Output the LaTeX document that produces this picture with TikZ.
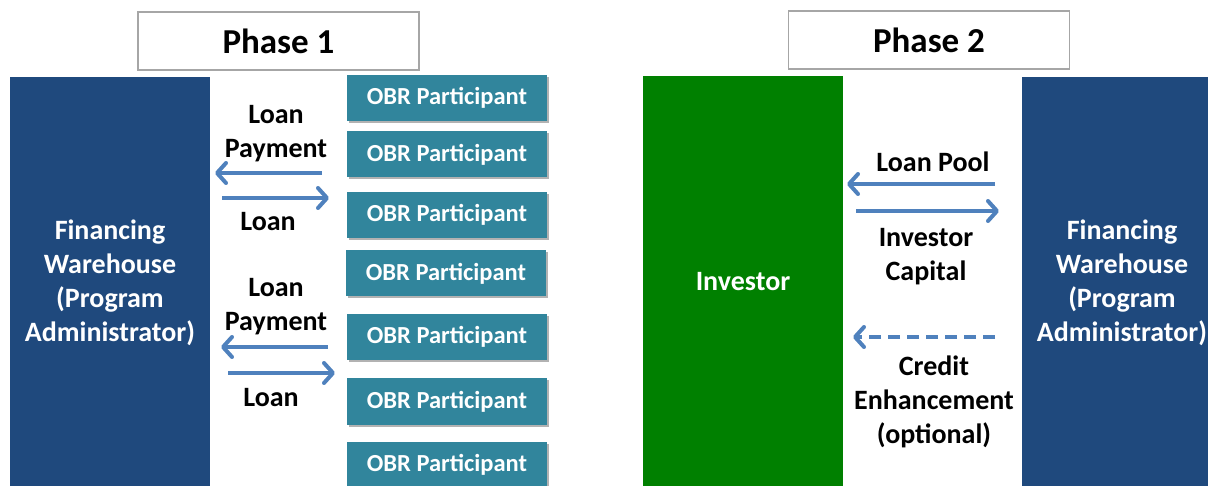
\documentclass[tikz,border=0pt]{standalone}
\usepackage{fontspec}
\setmainfont{Carlito}
\usetikzlibrary{arrows.meta,shadows}
\definecolor{navy}{HTML}{1F497D}
\definecolor{obrteal}{HTML}{31859C}
\definecolor{invgreen}{HTML}{008000}
\definecolor{arrowblue}{HTML}{4F81BD}
\definecolor{phasegray}{HTML}{A6A6A6}
\tikzset{
  bigbox/.style={draw=none, fill=#1, minimum width=200pt, minimum height=412pt,
    text=white, font=\bfseries\fontsize{28}{34}\selectfont, align=center, inner sep=0pt},
  obr/.style={fill=obrteal, minimum width=200pt, minimum height=46pt, text=white,
    font=\bfseries\fontsize{24.5}{28}\selectfont, inner sep=0pt,
    drop shadow={shadow xshift=1.5pt, shadow yshift=-2pt, opacity=0.3, fill=black}},
  phasebox/.style={draw=phasegray, line width=1.2pt, fill=white, minimum width=281pt,
    minimum height=58pt, font=\bfseries\fontsize{35}{42}\selectfont, inner sep=0pt},
  lbl/.style={font=\bfseries\fontsize{28}{34}\selectfont, align=center, inner sep=0pt},
  arr/.style={draw=arrowblue, line width=4pt, -{Straight Barb[length=9pt,width=20pt,round]}},
}
\begin{document}
\begin{tikzpicture}[x=1pt,y=-1pt]
\useasboundingbox (0,0) rectangle (1208,486);
\clip (0,0) rectangle (1208,486);
% Phase titles
\node[phasebox] (ph1) at (278.5,41) {Phase 1};
\node[phasebox] (ph2) at (929,40) {Phase 2};
% Phase 1
\node[bigbox=navy] (fw1) at (110,283) {Financing\\Warehouse\\(Program\\Administrator)};
\node[obr] (o1) at (447,98) {OBR Participant};
\node[obr] (o2) at (447,154.5) {OBR Participant};
\node[obr] (o3) at (447,215) {OBR Participant};
\node[obr] (o4) at (446,273.5) {OBR Participant};
\node[obr] (o5) at (447,337) {OBR Participant};
\node[obr] (o6) at (447,401.5) {OBR Participant};
\node[obr] (o7) at (447,465) {OBR Participant};
\node[lbl] (lp1) at (276,133.5) {Loan\\Payment};
\node[lbl] (ln1) at (268,222) {Loan};
\node[lbl] (lp2) at (276,306.5) {Loan\\Payment};
\node[lbl] (ln2) at (271,398) {Loan};
\coordinate (a1s) at (322,173); \coordinate (a1e) at (215,173);
\coordinate (a2s) at (222,198); \coordinate (a2e) at (329,198);
\coordinate (a3s) at (328,347); \coordinate (a3e) at (221,347);
\coordinate (a4s) at (228,373); \coordinate (a4e) at (335,373);
\draw[arr] (a1s) -- (a1e);
\draw[arr] (a2s) -- (a2e);
\draw[arr] (a3s) -- (a3e);
\draw[arr] (a4s) -- (a4e);
% Phase 2
\node[bigbox=invgreen] (inv) at (743,282) {Investor};
\node[bigbox=navy] (fw2) at (1122,283) {Financing\\Warehouse\\(Program\\Administrator)};
\node[lbl] (lpool) at (933,161.5) {Loan Pool};
\node[lbl] (icap) at (926,257) {Investor\\Capital};
\node[lbl] (cred) at (934,402) {Credit\\Enhancement\\(optional)};
\coordinate (b1s) at (995,184); \coordinate (b1e) at (847,184);
\coordinate (b2s) at (856,211); \coordinate (b2e) at (999,211);
\coordinate (b3s) at (995,337); \coordinate (b3e) at (853,337);
\draw[arr] (b1s) -- (b1e);
\draw[arr] (b2s) -- (b2e);
\draw[arr, dash pattern=on 12pt off 7pt] (b3s) -- (b3e);
\end{tikzpicture}
\end{document}
